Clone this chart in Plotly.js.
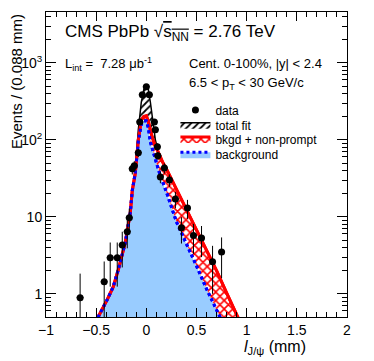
<!DOCTYPE html>
<html>
<head>
<meta charset="utf-8">
<script src="https://cdn.plot.ly/plotly-3.0.1.min.js"></script>
<style>html,body{margin:0;padding:0;background:#fff}</style>
</head>
<body>
<div id="lifetimefig" style="width:374px;height:361px"></div>
<script>
// data points
var pts_x = [-0.66,-0.42,-0.36,-0.29,-0.24,-0.19,-0.17,-0.14,-0.12,-0.08,-0.065,-0.04,0.00,0.03,0.08,0.09,0.11,0.115,0.14,0.18,0.23,0.29,0.35,0.41,0.47,0.55,0.66,0.75];
var pts_y = [0.89,1.43,2.94,2.94,4.3,6.4,9.7,42,46,68,171,384,488,384,171,135,81,62,33,43,30,17,7.2,13,5.7,5.3,2.6,3.5];
var pts_err = [0.94,1.2,1.7,1.7,2.1,2.5,3.1,6.5,6.8,8.2,13,20,22,20,13,11.6,9,7.9,5.7,6.6,5.5,4.1,2.7,3.6,2.4,2.3,1.6,1.9];

// fit curves on a common grid
var fit_x = [-0.55,-0.48,-0.39,-0.33,-0.28,-0.21,-0.16,-0.14,-0.11,-0.08,-0.05,-0.025,0,0.02,0.04,0.06,0.09,0.12,0.16,0.2,0.3,0.4,0.5,0.6,0.7,0.8,0.9,1.0];
var bkg   = [0.3,0.5,0.84,1.23,2.05,4.6,11.3,22,37,95,160,175,177,143,94,76,55,41,29,21,8.6,4.5,2.3,1.16,0.64,0.33,0.17,0.09];
var bkgnp = [0.3,0.5,0.84,1.23,2.05,4.6,11.3,22,37,100,182,200,205,175,135,106,84,68,52,42,23,12.7,7.0,3.7,2.0,1.03,0.53,0.28];
var total = [0.3,0.5,0.84,1.23,2.05,4.6,11.3,22,39,135,310,450,515,450,310,190,100,70,52,42,23,12.7,7.0,3.7,2.0,1.03,0.53,0.28];

var fnt = 'Liberation Sans, Arial, Helvetica, sans-serif';

// one legend box per entry so the rows sit as tight as in the original
function leg(y) {
  return {x: 0.43, y: y, xanchor: 'left', yanchor: 'middle', bgcolor: 'rgba(0,0,0,0)',
    borderwidth: 0, font: {family: fnt, size: 12}};
}

function myfig_lifetime() {
  var bkgFill = { x: fit_x, y: bkg, name: 'background', mode: 'lines', fill: 'tozeroy', legend: 'legend4',
    fillcolor: '#99ccff', line: {color: 'blue', width: 3, dash: '3px,3px'} };
  var npFill = { x: fit_x, y: bkgnp, name: 'bkgd + non-prompt', mode: 'lines', fill: 'tonexty', legend: 'legend3',
    fillcolor: 'white', fillpattern: {shape: 'x', fgcolor: 'red', bgcolor: 'white', size: 6, solidity: 0.45},
    line: {color: 'red', width: 3} };
  var totFill = { x: fit_x, y: total, name: 'total fit', mode: 'lines', fill: 'tonexty', legend: 'legend2',
    fillcolor: 'white', fillpattern: {shape: '/', fgcolor: 'black', bgcolor: 'white', size: 5, solidity: 0.35},
    line: {color: 'black', width: 1.5} };
  var npLine = { x: fit_x, y: bkgnp, mode: 'lines', showlegend: false, line: {color: 'red', width: 3} };
  var bkgLine = { x: fit_x, y: bkg, mode: 'lines', showlegend: false, line: {color: 'blue', width: 3, dash: '3px,3px'} };
  var pts = { x: pts_x, y: pts_y, name: 'data', mode: 'markers', legend: 'legend',
    marker: {color: 'black', size: 7},
    error_y: {type: 'data', array: pts_err, color: 'black', thickness: 1, width: 0},
    error_x: {type: 'constant', value: 0.035, color: 'black', thickness: 1, width: 0} };

  var data = [bkgFill, npFill, totFill, npLine, bkgLine, pts];

  var layout = {
    width: 374, height: 361,
    margin: {l: 46, r: 27, t: 12, b: 44},
    paper_bgcolor: 'white', plot_bgcolor: 'white',
    font: {family: fnt, size: 13, color: 'black'},
    showlegend: true,
    legend: leg(0.679),
    legend2: leg(0.630),
    legend3: leg(0.584),
    legend4: leg(0.534),
    xaxis: {
      range: [-1, 2], showgrid: false, zeroline: false,
      showline: true, linecolor: 'black', linewidth: 1, mirror: 'allticks',
      ticks: 'inside', ticklen: 9, tickcolor: 'black', dtick: 0.5, tick0: 0,
      tickfont: {family: fnt, size: 14},
      minor: {ticks: 'inside', ticklen: 5, dtick: 0.1, tickcolor: 'black', showgrid: false}
    },
    yaxis: {
      type: 'log', range: [Math.log10(0.5), 3.66], showgrid: false, zeroline: false,
      showline: true, linecolor: 'black', linewidth: 1, mirror: 'allticks',
      ticks: 'inside', ticklen: 10, tickcolor: 'black',
      tickmode: 'array', tickvals: [1, 10, 100, 1000], ticktext: ['1', '10', '10<sup>2</sup>', '10<sup>3</sup>'],
      tickfont: {family: fnt, size: 14},
      minor: {ticks: 'inside', ticklen: 5, tickcolor: 'black', showgrid: false,
        tickmode: 'array', tickvals: [0.6,0.7,0.8,0.9,2,3,4,5,6,7,8,9,20,30,40,50,60,70,80,90,200,300,400,500,600,700,800,900,2000,3000,4000]}
    },
    annotations: [
      {xref: 'paper', yref: 'paper', x: 0.055, y: 0.93, xanchor: 'left', yanchor: 'middle', showarrow: false,
       text: 'CMS PbPb \u221A<span style="text-decoration:overline">s<sub>NN</sub></span> = 2.76 TeV', font: {size: 17}},
      {xref: 'paper', yref: 'paper', x: 0.055, y: 0.83, xanchor: 'left', yanchor: 'middle', showarrow: false,
       text: 'L<sub>int</sub> =  7.28 \u03BCb<sup>-1</sup>', font: {size: 13}},
      {xref: 'paper', yref: 'paper', x: 0.467, y: 0.83, xanchor: 'left', yanchor: 'middle', showarrow: false,
       text: 'Cent. 0-100%, |y| < 2.4', font: {size: 13}},
      {xref: 'paper', yref: 'paper', x: 0.467, y: 0.765, xanchor: 'left', yanchor: 'middle', showarrow: false,
       text: '6.5 < p<sub>T</sub> < 30 GeV/c', font: {size: 13}},
      {xref: 'paper', yref: 'paper', x: -0.098, y: 1, xanchor: 'center', yanchor: 'top', showarrow: false,
       textangle: -90, text: 'Events / (0.088 mm)', font: {size: 15}},
      {xref: 'paper', yref: 'paper', x: 0.87, y: -0.1, xanchor: 'right', yanchor: 'middle', showarrow: false,
       text: '<i>l</i><sub>J/\u03C8</sub> (mm)', font: {size: 16}}
    ]
  };
  Plotly.newPlot('lifetimefig', data, layout, {displayModeBar: false, staticPlot: true});
}
myfig_lifetime();
</script>
</body>
</html>
